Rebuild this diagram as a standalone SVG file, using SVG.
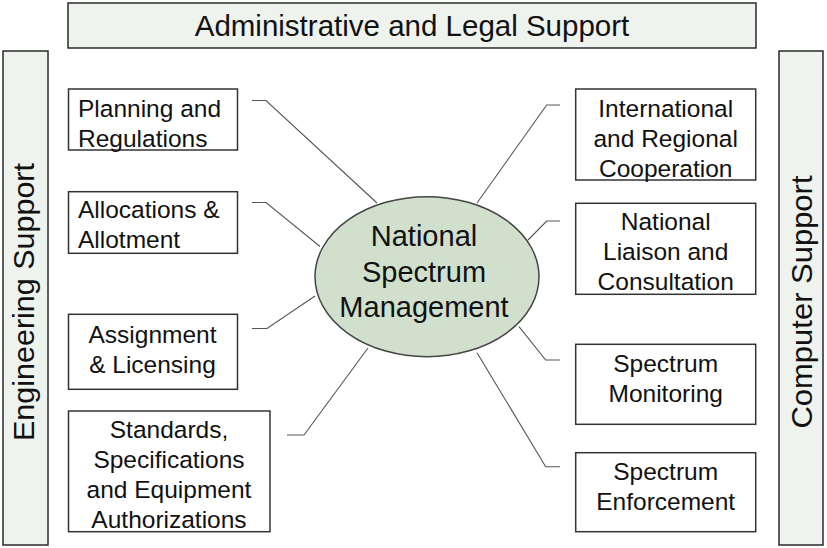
<svg xmlns="http://www.w3.org/2000/svg" width="827" height="548" viewBox="0 0 827 548">
<style>
text{font-family:"Liberation Sans",Arial,sans-serif;fill:#111}
.bar{fill:#EEF3EE;stroke:#2a2a2a;stroke-width:1.5}
.box{fill:#fff;stroke:#333;stroke-width:1.5}
.t{font-size:24.5px}
.c{text-anchor:middle}
.big{font-size:29.5px}
.conn{fill:none;stroke:#555;stroke-width:1.1}
</style>
<rect width="827" height="548" fill="#fff"/>
<g id="admin">
<rect class="bar" x="68" y="3" width="688" height="45"/>
<text class="big c" x="412" y="36">Administrative and Legal Support</text>
</g>
<g id="engineering">
<rect class="bar" x="3" y="51" width="45" height="494"/>
<text class="big c" transform="translate(34,302) rotate(-90)" textLength="278" lengthAdjust="spacingAndGlyphs">Engineering Support</text>
</g>
<g id="computer">
<rect class="bar" x="779" y="51" width="44" height="494"/>
<text class="big c" transform="translate(812,302) rotate(-90)" textLength="253" lengthAdjust="spacingAndGlyphs">Computer Support</text>
</g>
<g id="connectors">
<polyline class="conn" points="252,100.5 266,100.5 377,203"/>
<polyline class="conn" points="252,202.5 266,202.5 320,246.5"/>
<polyline class="conn" points="252,328.5 267,328.5 315,296"/>
<polyline class="conn" points="287,435 304,435 368,348"/>
<polyline class="conn" points="560,105 546.7,105 477,203"/>
<polyline class="conn" points="560,221 546.7,221 528,240"/>
<polyline class="conn" points="560,360 545.7,360 519,326.7"/>
<polyline class="conn" points="560,466.7 545.7,466.7 477,352.7"/>
</g>
<g id="center">
<ellipse cx="427" cy="276.7" rx="112" ry="80" fill="#D0E0CD" stroke="#444" stroke-width="1.5"/>
<text class="c" x="424" y="245.7" style="font-size:29px">National</text>
<text class="c" x="424" y="281.7" style="font-size:29px">Spectrum</text>
<text class="c" x="424" y="317.3" style="font-size:29px">Management</text>
</g>
<g id="planning">
<rect class="box" x="68.5" y="89" width="169" height="61"/>
<text class="t" x="78" y="116.5">Planning and</text>
<text class="t" x="78" y="146.5">Regulations</text>
</g>
<g id="allocations">
<rect class="box" x="68.5" y="191.7" width="169" height="61.6"/>
<text class="t" x="78" y="218.3">Allocations &amp;</text>
<text class="t" x="78" y="248.3">Allotment</text>
</g>
<g id="assignment">
<rect class="box" x="68.5" y="314.3" width="169" height="75"/>
<text class="t c" x="152.5" y="343.3">Assignment</text>
<text class="t c" x="152.5" y="372.5">&amp; Licensing</text>
</g>
<g id="standards">
<rect class="box" x="68.5" y="411" width="201.5" height="120.7"/>
<text class="t c" x="169" y="438.3">Standards,</text>
<text class="t c" x="169" y="468.3">Specifications</text>
<text class="t c" x="169" y="498.3">and Equipment</text>
<text class="t c" x="169" y="528.3">Authorizations</text>
</g>
<g id="international">
<rect class="box" x="575.7" y="89" width="180" height="91"/>
<text class="t c" x="665.7" y="116.7">International</text>
<text class="t c" x="665.7" y="146.7">and Regional</text>
<text class="t c" x="665.7" y="176.7">Cooperation</text>
</g>
<g id="liaison">
<rect class="box" x="575.7" y="203.3" width="180" height="91"/>
<text class="t c" x="665.7" y="230">National</text>
<text class="t c" x="665.7" y="260">Liaison and</text>
<text class="t c" x="665.7" y="290">Consultation</text>
</g>
<g id="monitoring">
<rect class="box" x="575.7" y="344.3" width="180" height="80"/>
<text class="t c" x="665.7" y="371.7">Spectrum</text>
<text class="t c" x="665.7" y="401.7">Monitoring</text>
</g>
<g id="enforcement">
<rect class="box" x="575.7" y="452.7" width="180" height="79"/>
<text class="t c" x="665.7" y="480">Spectrum</text>
<text class="t c" x="665.7" y="510">Enforcement</text>
</g>
</svg>
